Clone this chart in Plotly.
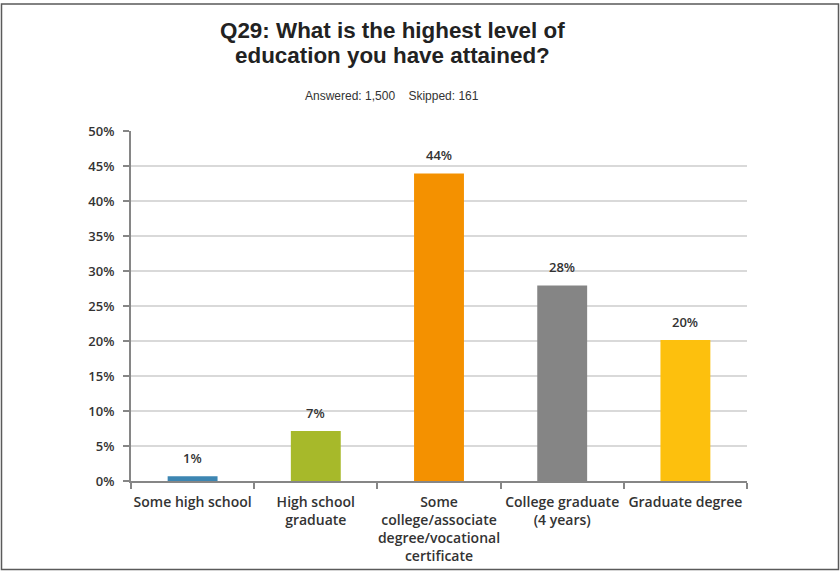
import plotly.graph_objects as go

categories = ["Some high school", "High school<br>graduate",
              "Some<br>college/associate<br>degree/vocational<br>certificate",
              "College graduate<br>(4 years)", "Graduate degree"]
values = [0.67, 7.13, 43.93, 27.93, 20.13]
labels = ["1%", "7%", "44%", "28%", "20%"]
colors = ["#3d86b2", "#a7b92a", "#f49100", "#858585", "#fdc00d"]
y_ticks = [0, 5, 10, 15, 20, 25, 30, 35, 40, 45, 50]
y_ticktext = [f"{t}%" for t in y_ticks]
title_lines = ["Q29: What is the highest level of", "education you have attained?"]
subtitle = "Answered: 1,500&nbsp;&nbsp;&nbsp;&nbsp;Skipped: 161"

W, H = 840, 571
L, R, T, B = 131, 93, 131, 90
pw, ph = W - L - R, H - T - B

def px_x(p):
    return (p - L) / pw

def px_y(p):
    return (H - B - p) / ph

fig = go.Figure()
fig.add_trace(go.Bar(
    x=categories, y=values, marker=dict(color=colors, line=dict(width=0)),
    width=0.405, hoverinfo="skip",
))

for c, v, t in zip(categories, values, labels):
    fig.add_annotation(x=c, y=v, text=t, showarrow=False, yanchor="bottom",
                       yshift=7, font=dict(family="Open Sans", size=13, color="#333333", weight=600))

for line, yy in zip(title_lines, [31, 55]):
    fig.add_annotation(xref="paper", yref="paper", x=px_x(392), y=px_y(yy),
                       text=line, showarrow=False, xanchor="center", yanchor="middle",
                       font=dict(family="Liberation Sans", size=22.4, color="#222222", weight="bold"))
fig.add_annotation(xref="paper", yref="paper", x=px_x(392), y=px_y(96),
                   text=subtitle, showarrow=False, xanchor="center", yanchor="middle",
                   font=dict(family="Liberation Sans", size=12, color="#333333"))

fig.add_shape(type="rect", xref="paper", yref="paper",
              x0=px_x(1.5), x1=px_x(838.5), y0=px_y(4), y1=px_y(569.5),
              line=dict(color="#5a5a5a", width=1.5), fillcolor="rgba(0,0,0,0)", layer="below")

fig.update_layout(
    width=W, height=H, margin=dict(l=L, r=R, t=T, b=B, pad=0, autoexpand=False),
    paper_bgcolor="white", plot_bgcolor="white", showlegend=False,
    xaxis=dict(type="category", showline=True, linecolor="#868686", linewidth=2,
               ticks="outside", tickson="boundaries", ticklen=6, tickcolor="#868686",
               tickwidth=1.5, showgrid=False, tickangle=0, ticklabelstandoff=7,
               automargin=False,
               tickfont=dict(family="Open Sans", size=14, color="#333333", weight=600)),
    yaxis=dict(range=[0, 50], tickvals=y_ticks, ticktext=y_ticktext, showline=True,
               linecolor="#868686", linewidth=2, ticks="outside", ticklen=6,
               tickcolor="#868686", tickwidth=1.5, showgrid=True, gridcolor="#d9d9d9",
               gridwidth=1.5, zeroline=False, ticklabelstandoff=6, automargin=False,
               tickfont=dict(family="Open Sans", size=13, color="#333333", weight=600)),
)

fig.write_html("out.html", config={"displayModeBar": False},
               post_script="document.body.style.margin='0';document.body.style.overflow='hidden';")
